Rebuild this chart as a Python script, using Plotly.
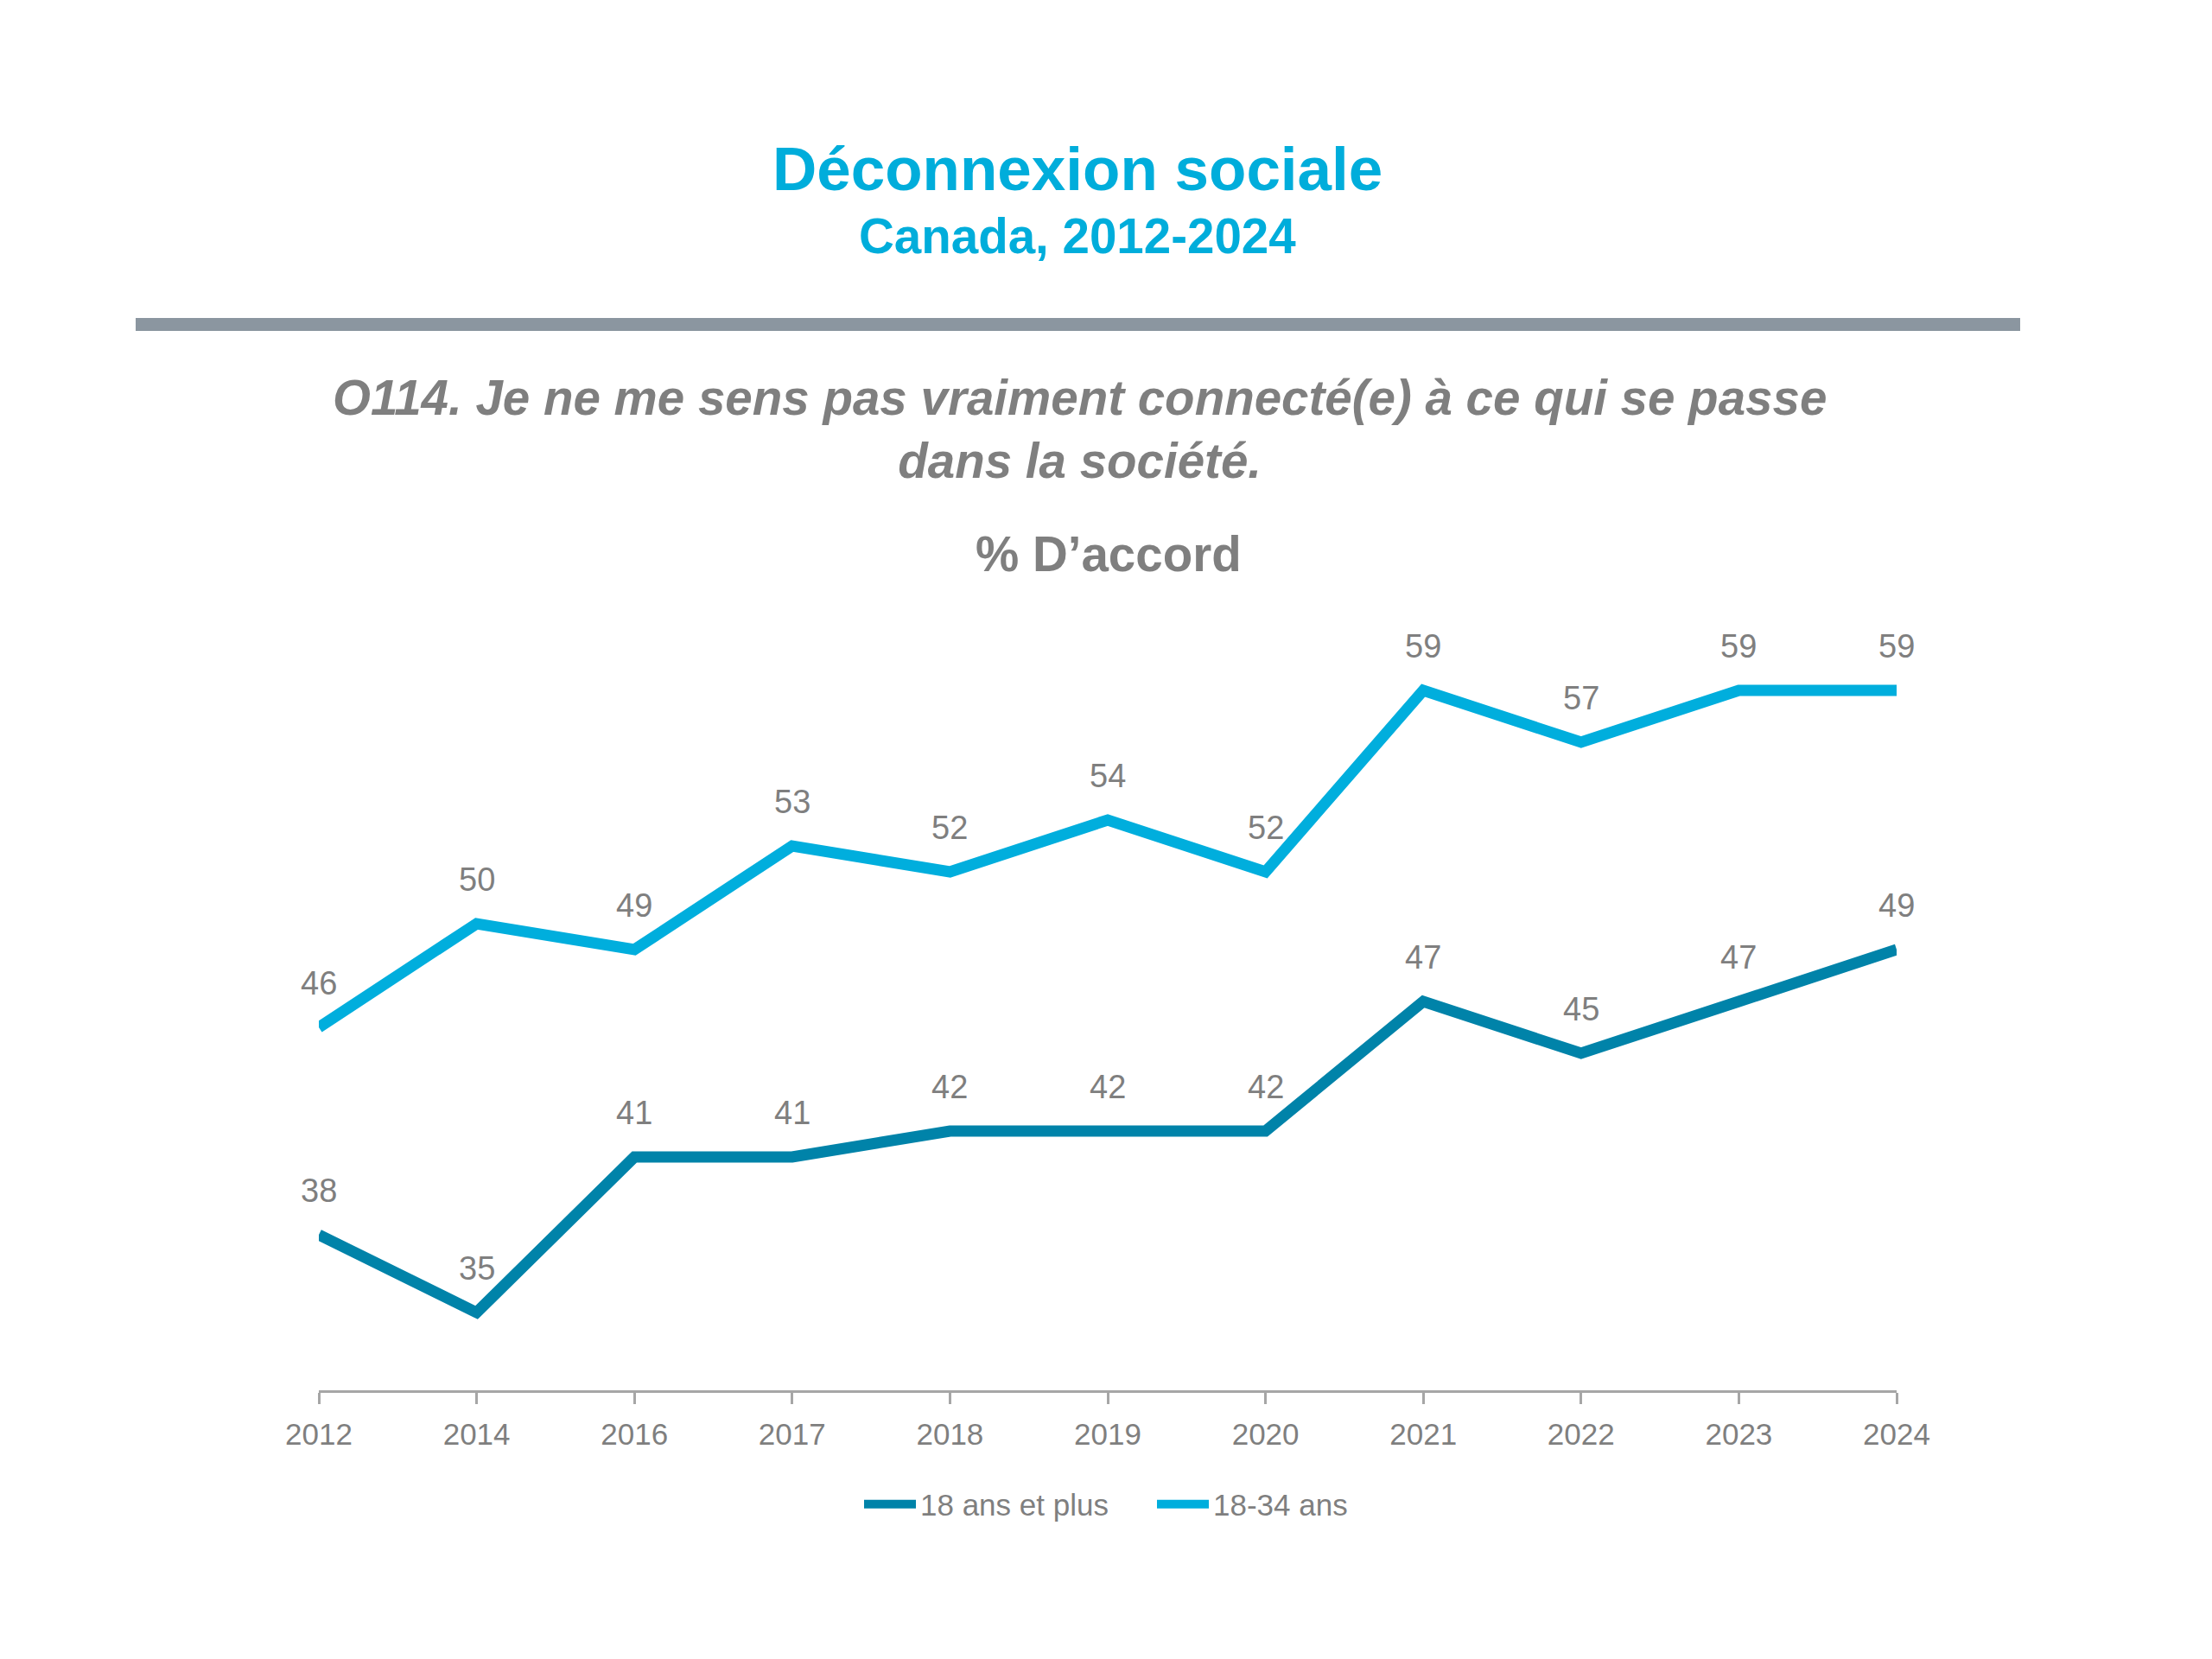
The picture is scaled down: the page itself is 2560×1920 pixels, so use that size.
import plotly.graph_objects as go

years = ["2012", "2014", "2016", "2017", "2018", "2019", "2020", "2021", "2022", "2023", "2024"]
all_adults = [38, 35, 41, 41, 42, 42, 42, 47, 45, 47, 49]
young_adults = [46, 50, 49, 53, 52, 54, 52, 59, 57, 59, 59]
series_names = ["18 ans et plus", "18-34 ans"]

title = "Déconnexion sociale"
subtitle = "Canada, 2012-2024"
question = "O114. Je ne me sens pas vraiment connecté(e) à ce qui se passe<br>dans la société."
measure = "% D’accord"

DARK = "#0083A9"
CYAN = "#00AEDD"
TITLE_C = "#00ADDB"
GREY = "#7F7F7F"
BAR = "#8B96A0"

NARROW = "Liberation Sans Narrow, Arial Narrow, Liberation Sans, Arial, sans-serif"
SANS = "Liberation Sans, Arial, sans-serif"

W, H = 2560, 1920
OFF = 8  # page body margin


def px_x(px):
    return (px - OFF) / W


def px_y(px):
    return 1 - (px - OFF) / H


fig = go.Figure()
fig.add_trace(go.Scatter(x=years, y=all_adults, mode="lines", name=series_names[0],
                         line=dict(color=DARK, width=13)))
fig.add_trace(go.Scatter(x=years, y=young_adults, mode="lines", name=series_names[1],
                         line=dict(color=CYAN, width=13)))

annotations = []
for series in (all_adults, young_adults):
    for i, v in enumerate(series):
        annotations.append(dict(x=i, y=v, xref="x", yref="y", text=str(v), showarrow=False,
                                yshift=51, yanchor="middle", xanchor="center",
                                font=dict(family=SANS, size=38, color=GREY)))

annotations += [
    dict(x=px_x(1247), y=px_y(196), xref="paper", yref="paper", text=f"<b>{title}</b>", showarrow=False,
         xanchor="center", yanchor="middle", font=dict(family=SANS, size=71, color=TITLE_C)),
    dict(x=px_x(1247), y=px_y(273), xref="paper", yref="paper", text=f"<b>{subtitle}</b>", showarrow=False,
         xanchor="center", yanchor="middle", font=dict(family=SANS, size=56.5, color=TITLE_C)),
    dict(x=px_x(1249), y=px_y(497), xref="paper", yref="paper", text=f"<b><i>{question}</i></b>", showarrow=False,
         xanchor="center", yanchor="middle", align="center", font=dict(family=SANS, size=56.5, color=GREY)),
    dict(x=px_x(1283), y=px_y(641), xref="paper", yref="paper", text=f"<b>{measure}</b>", showarrow=False,
         xanchor="center", yanchor="middle", font=dict(family=SANS, size=56.5, color=GREY)),
]

fig.update_layout(
    width=W, height=H,
    margin=dict(l=0, r=0, t=0, b=0, autoexpand=False),
    paper_bgcolor="white", plot_bgcolor="white",
    annotations=annotations,
    shapes=[dict(type="rect", xref="paper", yref="paper", x0=px_x(157), x1=px_x(2338),
                 y0=px_y(383), y1=px_y(368), fillcolor=BAR, line=dict(width=0), layer="above")],
    xaxis=dict(domain=[px_x(369), px_x(2195)], type="category", range=[0, 10], automargin=False,
               showgrid=False, zeroline=False, showline=True, linecolor="#A6A6A6", linewidth=3,
               ticks="outside", ticklen=13, tickwidth=3, tickcolor="#A6A6A6",
               ticklabelstandoff=5,
               tickfont=dict(family=NARROW, size=35, color=GREY)),
    yaxis=dict(domain=[px_y(1609), px_y(709)], range=[32, 62], visible=False, automargin=False),
    legend=dict(orientation="h", x=px_x(1334), y=px_y(1741), xanchor="center", yanchor="middle",
                font=dict(family=NARROW, size=35, color=GREY), itemwidth=60,
                entrywidth=264, entrywidthmode="pixels",
                bgcolor="rgba(0,0,0,0)"),
    showlegend=True,
)

fig.write_html("out.html")
